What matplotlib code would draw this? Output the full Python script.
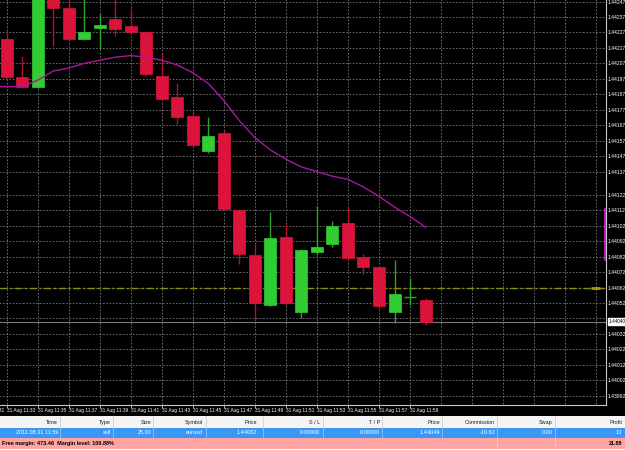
import matplotlib
matplotlib.use('Agg')
import matplotlib.pyplot as plt
import matplotlib.transforms as mtransforms
from matplotlib.patches import Rectangle

# ---------------- data ----------------
time_labels = ['31 Aug 11:31', '31 Aug 11:33', '31 Aug 11:35', '31 Aug 11:37', '31 Aug 11:39',
               '31 Aug 11:41', '31 Aug 11:43', '31 Aug 11:45', '31 Aug 11:47', '31 Aug 11:49',
               '31 Aug 11:51', '31 Aug 11:53', '31 Aug 11:55', '31 Aug 11:57', '31 Aug 11:59']
time_label_idx = [-2, 0, 2, 4, 6, 8, 10, 12, 14, 16, 18, 20, 22, 24, 26]

opens = [1.44223, 1.44198, 1.44192, 1.44252, 1.44243, 1.44223, 1.44230, 1.44236, 1.44231, 1.44227,
         1.44199, 1.44185, 1.44173, 1.44150, 1.44162, 1.44112, 1.44083, 1.44051, 1.44095, 1.44046,
         1.44085, 1.44090, 1.44104, 1.44082, 1.44075, 1.44046, 1.44056, 1.44054]
highs = [1.44229, 1.44212, 1.44256, 1.44255, 1.44250, 1.44250, 1.44239, 1.44250, 1.44243, 1.44228,
         1.44214, 1.44194, 1.44177, 1.44172, 1.44164, 1.44113, 1.44090, 1.44111, 1.44103, 1.44087,
         1.44115, 1.44105, 1.44115, 1.44084, 1.44076, 1.44080, 1.44068, 1.44055]
lows = [1.44196, 1.44191, 1.44191, 1.44218, 1.44222, 1.44222, 1.44216, 1.44225, 1.44226, 1.44199,
        1.44183, 1.44168, 1.44153, 1.44149, 1.44112, 1.44077, 1.44041, 1.44050, 1.44051, 1.44042,
        1.44083, 1.44088, 1.44080, 1.44071, 1.44049, 1.44039, 1.44051, 1.44038]
closes = [1.44198, 1.44192, 1.44252, 1.44243, 1.44223, 1.44227, 1.44232, 1.44229, 1.44227, 1.44200,
          1.44184, 1.44172, 1.44154, 1.44160, 1.44113, 1.44084, 1.44052, 1.44094, 1.44052, 1.44086,
          1.44088, 1.44102, 1.44081, 1.44075, 1.44050, 1.44058, 1.44056, 1.44040]

ma_start = -1
ma_values = [1.44192, 1.44192, 1.44192, 1.44196, 1.44202, 1.44204, 1.44207, 1.44209, 1.44211, 1.44212,
             1.44211, 1.44209, 1.44206, 1.44201, 1.44194, 1.44183, 1.44170, 1.44159, 1.44151, 1.44145,
             1.44140, 1.44137, 1.44134, 1.44132, 1.44127, 1.44121, 1.44114, 1.44108, 1.44101]

price_ticks = [1.44247, 1.44237, 1.44227, 1.44217, 1.44207, 1.44197, 1.44187, 1.44177, 1.44167,
               1.44157, 1.44147, 1.44137, 1.44122, 1.44112, 1.44102, 1.44092, 1.44082, 1.44072,
               1.44062, 1.44052, 1.44042, 1.44032, 1.44022, 1.44012, 1.44002, 1.43992]
order_price = 1.44062
bid_price = 1.44040
bid_label = '1.44040'
right_marker = (1.44080, 1.44113)

table_headers = ['Time', 'Type', 'Size', 'Symbol', 'Price', 'S / L', 'T / P', 'Price',
                 'Commission', 'Swap', 'Profit']
order_row = ['2011.08.31 11:59', 'sell', '25.00', 'eurusd', '1.44062', '0.00000', '0.00000',
             '1.44049', '-10.62', '0.00', '13']
summary_text = 'Free margin: 473.46  Margin level: 106.88%'
summary_profit = '21.88'

# ---------------- layout / style ----------------
W, H = 625, 450
BULL = '#32cd32'
BEAR = '#dc143c'
BULL_WICK = '#2aa82a'
BEAR_WICK = '#b3122f'
MA_COLOR = '#a8189c'
GRID = '#7a7a7a'
FONT = 'Liberation Sans'
FS = 3.6
FS_TIME = 3.45

fig = plt.figure(figsize=(W / 100, H / 100), dpi=100, facecolor='black')

# background / table layer in pixel coordinates
bg = fig.add_axes([0, 0, 1, 1])
bg.set_xlim(0, W)
bg.set_ylim(H, 0)
bg.axis('off')
bg.add_patch(Rectangle((0, 416), W, 12, facecolor='#f4f4f4', edgecolor='none'))
bg.add_patch(Rectangle((0, 428), W, 10, facecolor='#3a98f4', edgecolor='none'))
bg.add_patch(Rectangle((0, 438), W, 10.5, facecolor='#ffa3a3', edgecolor='none'))
bg.add_patch(Rectangle((0, 448.5), W, 2, facecolor='white', edgecolor='none'))
col_right = [58, 111, 151, 203, 257, 320, 380, 440, 495, 553, 622]
col_sep = [60, 113, 153, 206, 263, 323, 382, 442, 497, 555]
for xs in col_sep:
    bg.plot([xs, xs], [416, 428], color='#d0d0d0', lw=0.6)
    bg.plot([xs, xs], [428, 438], color='#8cc4fa', lw=0.6)
for xs in col_sep[-2:]:
    bg.plot([xs, xs], [438, 448], color='#ffc4c4', lw=0.6)
for xr, h, v in zip(col_right, table_headers, order_row):
    bg.text(xr, 422.5, h, ha='right', va='center', fontsize=FS + 0.4, color='#202020', family=FONT)
    bg.text(xr, 433, v, ha='right', va='center', fontsize=FS + 0.4, color='white', family=FONT)
bg.text(1.5, 443.3, summary_text, ha='left', va='center', fontsize=FS + 0.4, color='black',
        family=FONT, fontweight='bold')
bg.text(col_right[-1], 443.3, summary_profit, ha='right', va='center', fontsize=FS + 0.4,
        color='black', family=FONT, fontweight='bold')

# chart axes
ax = fig.add_axes([0, 45 / H, 606 / W, 405 / H], facecolor='black')
x_step_px = 15.52
x0_px = 6.5
ax.set_xlim((0 - x0_px) / x_step_px, (606 - x0_px) / x_step_px)
ax.set_ylim(1.43986, 1.44248)

for s in ['top', 'left']:
    ax.spines[s].set_visible(False)
for s in ['right', 'bottom']:
    ax.spines[s].set_color('#c8c8c8')
    ax.spines[s].set_linewidth(0.8)

# grid
ax.hlines(price_ticks, -1, 40, colors=GRID, linewidth=0.6, linestyles=(0, (2, 2)), zorder=1)
ax.vlines(list(range(0, 39, 2)), 1.43980, 1.44260, colors=GRID, linewidth=0.6,
          linestyles=(0, (2, 2)), zorder=1)

# order line and bid line
ax.axhline(order_price, color='#8f8f00', lw=1.0, linestyle=(0, (5, 2, 1.5, 2)), zorder=2)
ax.axhline(bid_price, color='#7a7a7a', lw=0.8, zorder=2)
tr = mtransforms.blended_transform_factory(ax.transAxes, ax.transData)
ax.plot([0.975, 0.99], [order_price, order_price], transform=tr,
        color='#a0a000', lw=2.0, zorder=3, solid_capstyle='butt')
ax.plot([0.998, 0.998], list(right_marker), transform=tr,
        color='#e020e0', lw=1.2, zorder=6, clip_on=False)

# candles
body_w = 12 / x_step_px
for i, (o, h, l, c) in enumerate(zip(opens, highs, lows, closes)):
    up = c >= o
    wick = BULL_WICK if up else BEAR_WICK
    ax.vlines(i, l, h, colors=wick, linewidth=1.0, zorder=3)
    if o == c:
        ax.hlines(c, i - body_w / 2, i + body_w / 2, colors=BULL_WICK, linewidth=1.0, zorder=4)
    else:
        col = BULL if up else BEAR
        ax.bar(i, c - o, bottom=o, width=body_w, color=col, edgecolor=col, linewidth=0.5, zorder=4)

# moving average
ma_x = list(range(ma_start, ma_start + len(ma_values)))
ax.plot(ma_x, ma_values, color=MA_COLOR, lw=1.0, zorder=5)

# right price labels
ax.yaxis.tick_right()
ax.set_yticks(price_ticks)
ax.set_yticklabels(['' if abs(p - 1.44042) < 1e-9 else f'{p:.5f}' for p in price_ticks])
ax.tick_params(axis='y', length=0, pad=1.5, labelsize=FS, labelcolor='white')
for t in ax.get_yticklabels():
    t.set_family(FONT)

# bottom time labels
ax.set_xticks([i for i in time_label_idx if i >= 0])
ax.tick_params(axis='x', length=2, width=0.6, color='#c8c8c8', direction='out', labelbottom=False)
tb = mtransforms.blended_transform_factory(ax.transData, ax.transAxes)
for idx, lab in zip(time_label_idx, time_labels):
    ax.text(idx + 0.03, -0.008, lab, transform=tb, ha='left', va='top', fontsize=FS_TIME,
            color='white', family=FONT, clip_on=False)

# bid label box
ax.text(1.0045, bid_price, bid_label, transform=tr, ha='left', va='center', fontsize=FS - 0.2,
        color='black', family=FONT, zorder=10, clip_on=False,
        bbox=dict(boxstyle='square,pad=0.25', facecolor='white', edgecolor='white'))

fig.savefig('out.png', dpi=100, facecolor='black')
